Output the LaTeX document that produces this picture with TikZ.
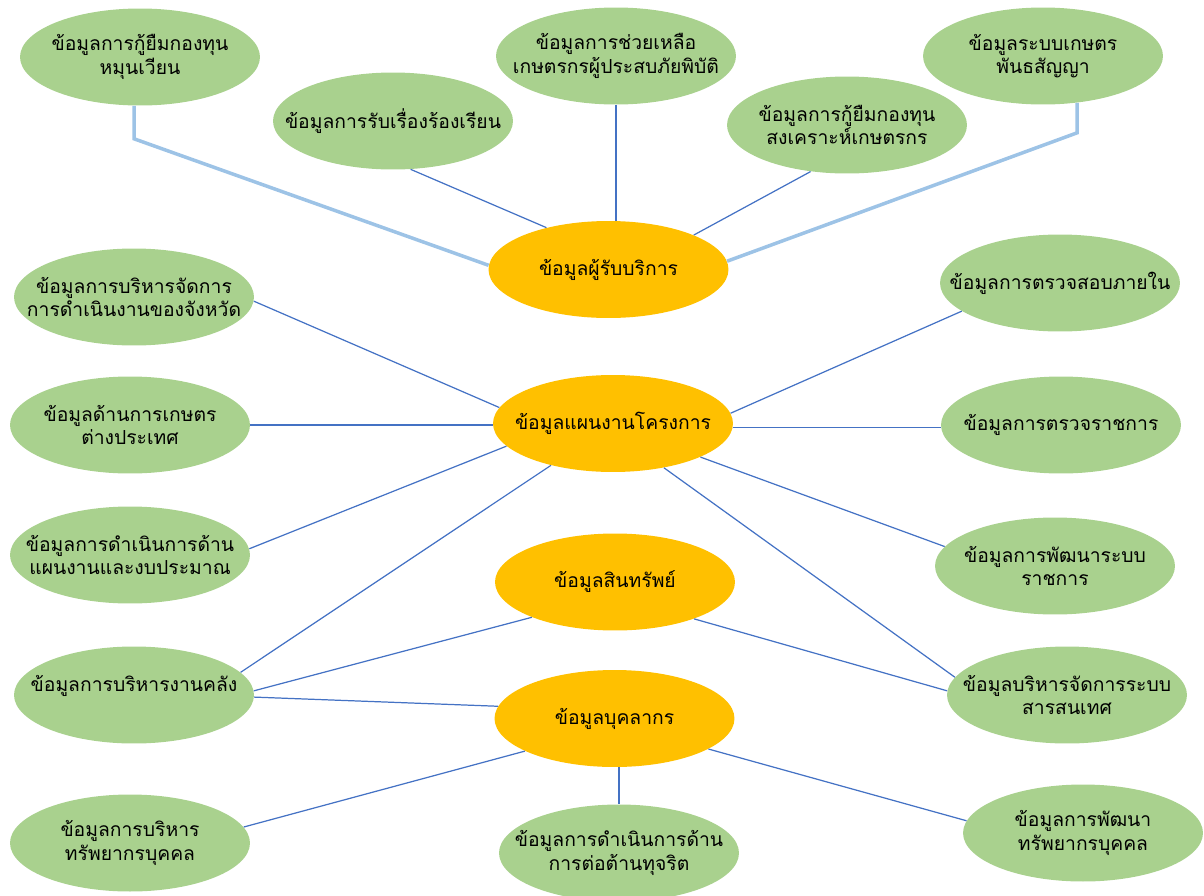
\documentclass[tikz,border=0pt]{standalone}
\usepackage{fontspec}
\newfontfamily\thaifont[Script=Thai]{Loma}
\usetikzlibrary{shapes.geometric}
\definecolor{leafgreen}{HTML}{A9D18E}
\definecolor{hubgold}{HTML}{FFC000}
\definecolor{linkblue}{HTML}{4472C4}
\definecolor{trunkblue}{HTML}{9DC3E6}
\tikzset{>=latex}

\begin{document}
\begin{tikzpicture}[x=0.02cm, y=-0.02cm,
    bubble/.style={ellipse, minimum width=4.8cm, minimum height=1.94cm, inner xsep=-1.2cm, inner ysep=0pt,
      align=center, font=\thaifont\fontsize{11}{13.5}\selectfont},
    leaf/.style={bubble, fill=leafgreen},
    hub/.style={bubble, fill=hubgold},
    link/.style={draw=linkblue, line width=0.7pt},
    trunk/.style={draw=trunkblue, line width=2pt}]
  \useasboundingbox (0,0) rectangle (1204,896);
  \node[leaf] (kuyim) at (140,57) {ข้อมูลการกู้ยืมกองทุน\\หมุนเวียน};
  \node[leaf] (rongrian) at (393,121) {ข้อมูลการรับเรื่องร้องเรียน};
  \node[leaf] (chuailuea) at (616,56) {ข้อมูลการช่วยเหลือ\\เกษตรกรผู้ประสบภัยพิบัติ};
  \node[leaf] (songkhro) at (847,125) {ข้อมูลการกู้ยืมกองทุน\\สงเคราะห์เกษตรกร};
  \node[leaf] (phantha) at (1043,56) {ข้อมูลระบบเกษตร\\พันธสัญญา};
  \node[hub] (user) at (608.5,269.5) {ข้อมูลผู้รับบริการ};
  \node[leaf] (changwat) at (134,297) {ข้อมูลการบริหารจัดการ\\การดำเนินงานของจังหวัด};
  \node[leaf] (truatsop) at (1060,283) {ข้อมูลการตรวจสอบภายใน};
  \node[hub] (plan) at (613,423.5) {ข้อมูลแผนงานโครงการ};
  \node[leaf] (tangprathet) at (130,425) {ข้อมูลด้านการเกษตร\\ต่างประเทศ};
  \node[leaf] (truatrat) at (1061,425) {ข้อมูลการตรวจราชการ};
  \node[leaf] (ngoppraman) at (130,555) {ข้อมูลการดำเนินการด้าน\\แผนงานและงบประมาณ};
  \node[leaf] (rabop) at (1055,566) {ข้อมูลการพัฒนาระบบ\\ราชการ};
  \node[hub] (asset) at (615,582) {ข้อมูลสินทรัพย์};
  \node[leaf] (khlang) at (134,695) {ข้อมูลการบริหารงานคลัง\\~};
  \node[leaf] (saratsonthet) at (1067,695) {ข้อมูลบริหารจัดการระบบ\\สารสนเทศ};
  \node[hub] (staff) at (614.5,718.5) {ข้อมูลบุคลากร};
  \node[leaf] (borihankhon) at (130,843) {ข้อมูลการบริหาร\\ทรัพยากรบุคคล};
  \node[leaf] (thutcharit) at (619,853) {ข้อมูลการดำเนินการด้าน\\การต่อต้านทุจริต};
  \node[leaf] (phatthanakhon) at (1083,833) {ข้อมูลการพัฒนา\\ทรัพยากรบุคคล};
  \draw[trunk] (kuyim.-97) -- ++(0,33) -- (user.178);
  \draw[trunk] (phantha.-54) -- ++(0,30) -- (user.4.5);
  \path[link]
    (rongrian.-70.5) edge (user.146.4)
    (chuailuea.south) edge (chuailuea.south |- user.north)
    (songkhro.232.7) edge (user.22.2)
    (changwat.-2.4) edge (plan.172.2)
    (tangprathet.east) edge (tangprathet.east -| plan.west)
    (plan.-2.6) edge (plan.-2.6 -| truatrat.west)
    (truatsop.196) edge (plan.5.2)
    (ngoppraman.3.9) edge (plan.192.3)
    (rabop.170.9) edge (plan.-21.4)
    (khlang.12) edge (plan.214.6)
    (saratsonthet.171) edge (plan.-41.8)
    (khlang.2.9) edge (asset.203.7)
    (asset.-25.4) edge (saratsonthet.178.6)
    (khlang.-1.4) edge (staff.174)
    (borihankhon.8.5) edge (staff.200.5)
    (thutcharit.north |- staff.south) edge (thutcharit.north)
    (staff.-18.3) edge (phatthanakhon.174.7);
\end{tikzpicture}
\end{document}
